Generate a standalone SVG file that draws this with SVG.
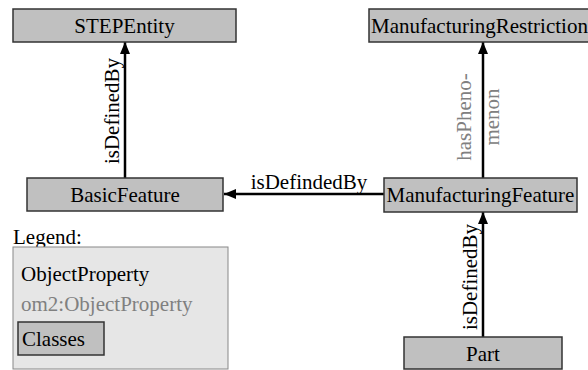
<svg xmlns="http://www.w3.org/2000/svg" width="588" height="370" viewBox="0 0 588 370">
  <defs>
    <marker id="arrow" viewBox="0 0 12 10" refX="12" refY="5" markerWidth="12" markerHeight="10" markerUnits="userSpaceOnUse" orient="auto">
      <path d="M0,0 L12,5 L0,10 Z" fill="#000"/>
    </marker>
  </defs>
  <style>
    text { font-family: "Liberation Serif", "Times New Roman", serif; font-size: 21px; fill: #000; }
    .cls { fill: #c0c0c0; stroke: #333; stroke-width: 1.5; }
    .om2 { fill: #808080; }
    .edge { stroke: #000; stroke-width: 2.5; fill: none; marker-end: url(#arrow); }
  </style>
  <rect width="588" height="370" fill="#fff"/>

  <!-- connectors -->
  <g id="connectors">
    <line class="edge" x1="125" y1="178" x2="125" y2="42"/>
    <text transform="translate(119,111) rotate(-90)" text-anchor="middle">isDefinedBy</text>

    <line class="edge" x1="384" y1="194" x2="224" y2="194"/>
    <text x="309" y="189" text-anchor="middle">isDefindedBy</text>

    <line class="edge" x1="483" y1="178" x2="483" y2="42"/>
    <text class="om2" transform="translate(471,117) rotate(-90)" text-anchor="middle">hasPheno-</text>
    <text class="om2" transform="translate(499,117) rotate(-90)" text-anchor="middle">menon</text>

    <line class="edge" x1="483" y1="337" x2="483" y2="212"/>
    <text transform="translate(477,277) rotate(-90)" text-anchor="middle">isDefinedBy</text>
  </g>

  <!-- class nodes -->
  <g id="STEPEntity">
    <rect class="cls" x="13" y="9" width="223" height="33"/>
    <text x="124.5" y="33" text-anchor="middle">STEPEntity</text>
  </g>
  <g id="ManufacturingRestriction">
    <rect class="cls" x="369" y="9" width="230" height="33"/>
    <text x="371" y="33">ManufacturingRestriction</text>
  </g>
  <g id="BasicFeature">
    <rect class="cls" x="27" y="178" width="196" height="33"/>
    <text x="125" y="202" text-anchor="middle">BasicFeature</text>
  </g>
  <g id="ManufacturingFeature">
    <rect class="cls" x="384" y="178" width="193" height="34"/>
    <text x="480.5" y="202" text-anchor="middle">ManufacturingFeature</text>
  </g>
  <g id="Part">
    <rect class="cls" x="404" y="337" width="158" height="32"/>
    <text x="483" y="361" text-anchor="middle">Part</text>
  </g>

  <!-- legend -->
  <g id="legend">
    <text x="13" y="244">Legend:</text>
    <rect x="13" y="247" width="215" height="122" fill="#e6e6e6" stroke="#888" stroke-width="1"/>
    <text x="21" y="281">ObjectProperty</text>
    <text class="om2" x="21" y="311">om2:ObjectProperty</text>
    <rect class="cls" x="18" y="322" width="86" height="33"/>
    <text x="22" y="346">Classes</text>
  </g>
</svg>
